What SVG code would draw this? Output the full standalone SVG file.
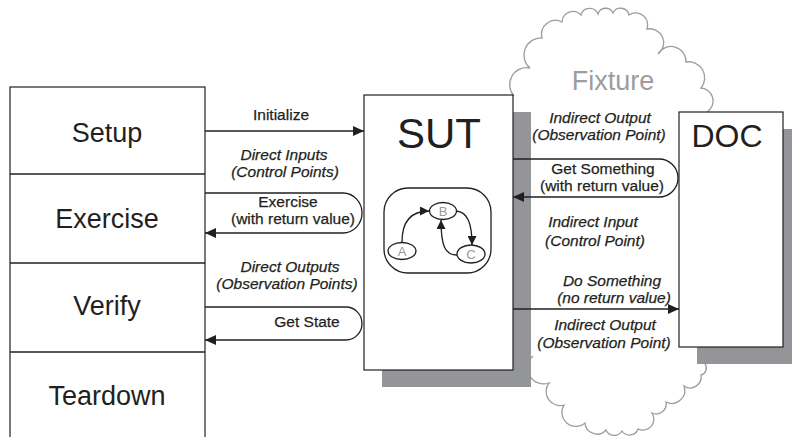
<svg xmlns="http://www.w3.org/2000/svg" width="792" height="437" viewBox="0 0 792 437">
<defs>
<style>
.box{fill:#fff;stroke:#231f20;stroke-width:1.2}
.shadow{fill:#939598}
.ln{fill:none;stroke:#231f20;stroke-width:1.3}
.cloud{fill:none;stroke:#9d9d9d;stroke-width:1.3}
.big{font-family:'Liberation Sans',Arial,sans-serif;font-size:27px;fill:#231f20;text-anchor:middle}
.lbl{font-family:'Liberation Sans',Arial,sans-serif;font-size:15.5px;fill:#231f20;stroke:#231f20;stroke-width:0.25;text-anchor:middle}
.it{font-style:italic}
.st{font-family:'Liberation Sans',Arial,sans-serif;font-size:13px;fill:#9a9a9a;text-anchor:middle}
</style>
<marker id="ah" markerUnits="userSpaceOnUse" markerWidth="11" markerHeight="10" refX="11" refY="5" orient="auto">
<path d="M0,0 L11,5 L0,10 z" fill="#231f20"/>
</marker>
<marker id="sah" markerUnits="userSpaceOnUse" markerWidth="9" markerHeight="9" refX="9" refY="4.5" orient="auto">
<path d="M0,0 L9,4.5 L0,9 z" fill="#231f20"/>
</marker>
</defs>

<g id="fixture">
<path class="cloud" d="M514,96 A17,17 0 0 1 530,68 A17,17 0 0 1 542,38 A14,14 0 0 1 562,22 A11,11 0 0 1 581,15 A9,9 0 0 1 598,14 A8,8 0 0 1 613,13 A8.5,8.5 0 0 1 629,15 A12,12 0 0 1 647,29 A14,14 0 0 1 658,54 A15,15 0 0 1 686,62 A16,16 0 0 1 701,88 A13,13 0 0 1 707,112"/>
<path class="cloud" d="M533,356 A16,16 0 0 0 549,383 A14,14 0 0 0 564,405 A14,14 0 0 0 585,423 A12,12 0 0 0 606,430 A9,9 0 0 0 622,431 A9,9 0 0 0 638,429 A11,11 0 0 0 652,413 A10,10 0 0 0 666,402 A13,13 0 0 0 684,386 A11,11 0 0 0 701,375 A7,7 0 0 0 705,364"/>
<text x="613" y="90" style="font-family:'Liberation Sans',Arial,sans-serif;font-size:27px;fill:#9d9d9d;text-anchor:middle">Fixture</text>
</g>

<g id="phases">
<rect class="box" x="10" y="87" width="195" height="370"/>
<line class="ln" x1="10" y1="174" x2="205" y2="174"/>
<line class="ln" x1="10" y1="263" x2="205" y2="263"/>
<line class="ln" x1="10" y1="352" x2="205" y2="352"/>
<text class="big" x="107" y="142">Setup</text>
<text class="big" x="107" y="228">Exercise</text>
<text class="big" x="107" y="315">Verify</text>
<text class="big" x="107" y="405">Teardown</text>
</g>

<g id="sut">
<rect class="shadow" x="382" y="112" width="149" height="275"/>
<rect class="box" x="364" y="95" width="149" height="275"/>
<text x="439" y="148" style="font-family:'Liberation Sans',Arial,sans-serif;font-size:42px;fill:#231f20;text-anchor:middle">SUT</text>
<rect class="ln" x="384" y="188" width="107" height="85" rx="24" ry="24"/>
<ellipse class="ln" cx="443" cy="211" rx="13.5" ry="8.5"/>
<ellipse class="ln" cx="402" cy="251" rx="14" ry="8.5"/>
<ellipse class="ln" cx="471" cy="254" rx="14" ry="9"/>
<text class="st" x="443" y="216">B</text>
<text class="st" x="402" y="256">A</text>
<text class="st" x="471" y="259">C</text>
<path class="ln" d="M402,242 C402,222 410,211 429,211" marker-end="url(#sah)"/>
<path class="ln" d="M456,211 C468,212 472,224 472,245" marker-end="url(#sah)"/>
<path class="ln" d="M457,255 C445,255 441,246 441,220" marker-end="url(#sah)"/>
</g>

<g id="doc">
<rect class="shadow" x="697" y="129" width="100" height="235"/>
<rect class="box" x="679" y="112" width="104" height="235"/>
<text x="727" y="147" style="font-family:'Liberation Sans',Arial,sans-serif;font-size:32px;fill:#231f20;text-anchor:middle">DOC</text>
</g>

<g id="connectors">
<line class="ln" x1="205" y1="131" x2="364" y2="131" marker-end="url(#ah)"/>
<path class="ln" d="M205,193 H343 A19,20 0 0 1 343,233 H205" marker-end="url(#ah)"/>
<path class="ln" d="M205,307 H346 A16,16.5 0 0 1 346,340 H205" marker-end="url(#ah)"/>
<path class="ln" d="M513,159 H659 A19,19 0 0 1 659,197 H513" marker-end="url(#ah)"/>
<line class="ln" x1="513" y1="309" x2="679" y2="309" marker-end="url(#ah)"/>
</g>

<g id="labels">
<text class="lbl" x="281" y="120">Initialize</text>
<text class="lbl it" x="284" y="160">Direct Inputs</text>
<text class="lbl it" x="285" y="177">(Control Points)</text>
<text class="lbl" x="288" y="207">Exercise</text>
<text class="lbl" x="293" y="224">(with return value)</text>
<text class="lbl it" x="290" y="272">Direct Outputs</text>
<text class="lbl it" x="287" y="289">(Observation Points)</text>
<text class="lbl" x="307" y="327">Get State</text>
<text class="lbl it" x="600" y="123">Indirect Output</text>
<text class="lbl it" x="599" y="140">(Observation Point)</text>
<text class="lbl" x="603" y="174">Get Something</text>
<text class="lbl" x="602" y="191">(with return value)</text>
<text class="lbl it" x="593" y="227">Indirect Input</text>
<text class="lbl it" x="595" y="246">(Control Point)</text>
<text class="lbl it" x="612" y="286">Do Something</text>
<text class="lbl it" x="614" y="303">(no return value)</text>
<text class="lbl it" x="605" y="330">Indirect Output</text>
<text class="lbl it" x="604" y="348">(Observation Point)</text>
</g>
</svg>
